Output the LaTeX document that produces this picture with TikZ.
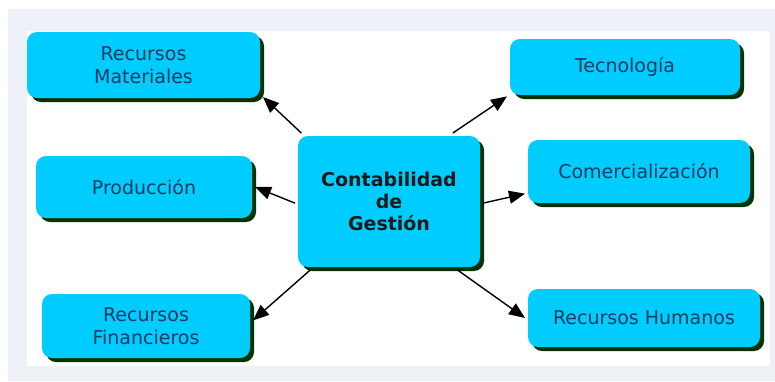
\documentclass[tikz,border=0pt]{standalone}
\usepackage{fontspec}
\setmainfont{DejaVu Sans}
\usetikzlibrary{arrows.meta,shadows}

\definecolor{boxcyan}{HTML}{00CCFF}
\definecolor{boxshadow}{HTML}{063306}
\definecolor{labelnavy}{HTML}{1A3A60}
\definecolor{panelgray}{HTML}{EDF1F7}

\begin{document}
\begin{tikzpicture}[x=1pt, y=-1pt,
   area/.style={fill=boxcyan, rounded corners=10pt, align=center, inner sep=0pt,
      outer sep=3pt, text=labelnavy, font=\fontsize{19}{23}\selectfont,
      drop shadow={shadow xshift=4pt, shadow yshift=-4pt, fill=boxshadow, opacity=1}},
   link/.style={-{Triangle[length=16pt, width=13pt]}, line width=1.4pt}]

\useasboundingbox (0,0) rectangle (775,381);
\fill[panelgray] (8,9) rectangle (775,381);
\fill[white] (27,31) rectangle (770,366);

\node[area, minimum width=182pt, minimum height=131pt, text=black!90,
      font=\fontsize{19}{22}\selectfont\bfseries] (cg) at (389,201.5)
    {Contabilidad\\de\\Gestión};

\node[area, minimum width=233pt, minimum height=66pt] (mat) at (143.5,65) {Recursos\\Materiales};
\node[area, minimum width=216pt, minimum height=62pt] (pro) at (144,187) {Producción};
\node[area, minimum width=208pt, minimum height=64pt] (fin) at (146,326) {Recursos\\Financieros};
\node[area, minimum width=230pt, minimum height=56pt] (tec) at (625,67) {Tecnología};
\node[area, minimum width=222pt, minimum height=63pt] (com) at (639,171.5) {Comercialización};
\node[area, minimum width=232pt, minimum height=58pt] (hum) at (644,318) {Recursos Humanos};

\draw[link] (cg.142) -- (mat.-15);
\draw[link] (cg.181) -- (pro.0);
\draw[link] (cg.221) -- (fin.3);
\draw[link] (cg.47) -- (tec.194);
\draw[link] (cg.-1) -- (com.191);
\draw[link] (cg.-45) -- (hum.180);

\end{tikzpicture}
\end{document}
